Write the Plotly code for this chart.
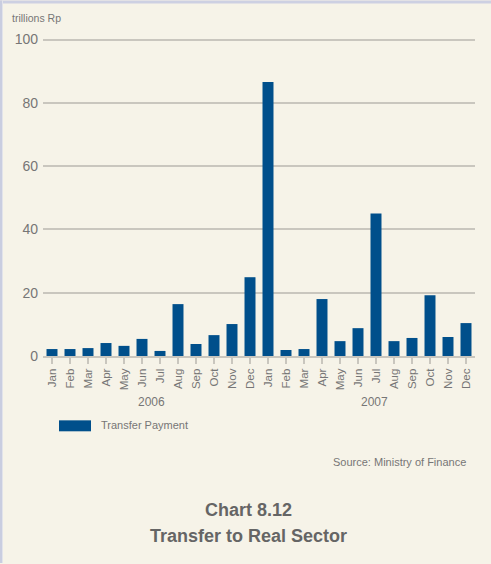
import plotly.graph_objects as go

# Monthly transfer payments to the real sector, trillions of rupiah
months = ["Jan", "Feb", "Mar", "Apr", "May", "Jun",
          "Jul", "Aug", "Sep", "Oct", "Nov", "Dec"]
years = ["2006", "2007"]
values_2006 = [2.2, 2.2, 2.5, 4.1, 3.2, 5.4, 1.6, 16.4, 3.8, 6.6, 10.1, 24.9]
values_2007 = [86.6, 1.9, 2.2, 18.0, 4.7, 8.8, 45.0, 4.7, 5.7, 19.2, 6.0, 10.4]
y_ticks = [0, 20, 40, 60, 80, 100]

series_name = "Transfer Payment"
unit_label = "trillions Rp"
source_note = "Source: Ministry of Finance"
title_lines = ["Chart 8.12", "Transfer to Real Sector"]

BG = "#F6F3E8"
BAR = "#004F8B"
GRID = "#C9C6BE"
TEXT = "#767676"
FONT = "Liberation Sans Narrow, Liberation Sans, Arial"

W, H = 491, 564
M_L, M_R, M_T, M_B = 43, 16, 37.7, 207.5
Y_TOP = 100.5

x_idx = list(range(len(months) * len(years)))
values = values_2006 + values_2007
labels = months * len(years)

fig = go.Figure()
fig.add_trace(go.Bar(
    x=x_idx, y=values, name=series_name,
    marker=dict(color=BAR, line=dict(width=0)),
    showlegend=False,
))

fig.update_layout(
    width=W, height=H,
    margin=dict(l=M_L, r=M_R, t=M_T, b=M_B, pad=0),
    paper_bgcolor=BG, plot_bgcolor=BG,
    bargap=0.39,
    font=dict(family=FONT, color=TEXT),
)

fig.update_xaxes(
    range=[-0.5, len(x_idx) - 0.5],
    tickmode="array", tickvals=x_idx, ticktext=labels,
    tickangle=-90, tickfont=dict(size=11.5, color=TEXT, family=FONT),
    showgrid=False, zeroline=False,
    showline=True, linecolor=GRID, linewidth=2,
    ticks="outside", ticklen=6, tickwidth=1.5, tickcolor=GRID,
    tickson="boundaries",
    fixedrange=True,
)

fig.update_yaxes(
    range=[0, Y_TOP],
    tickmode="array", tickvals=y_ticks, ticktext=[str(v) for v in y_ticks],
    tickfont=dict(size=14, color=TEXT, family=FONT),
    ticklabelstandoff=4,
    showgrid=True, gridcolor=GRID, gridwidth=1.5,
    zeroline=False, showline=False, ticks="",
    fixedrange=True,
)


def px_x(px):
    return (px - M_L) / (W - M_L - M_R)


def px_y(py):
    return (H - M_B - py) / (H - M_T - M_B)


annotations = [
    dict(text=unit_label, x=px_x(10), y=px_y(18), xanchor="left", yanchor="middle",
         font=dict(size=10.5, color=TEXT)),
    dict(text=years[0], x=5.5, xref="x", y=px_y(403), xanchor="center", yanchor="middle",
         font=dict(size=12, color=TEXT)),
    dict(text=years[1], x=17.9, xref="x", y=px_y(403), xanchor="center", yanchor="middle",
         font=dict(size=12, color=TEXT)),
    dict(text=series_name, x=px_x(99), y=px_y(426), xanchor="left", yanchor="middle",
         font=dict(size=11, color=TEXT)),
    dict(text=source_note, x=px_x(468), y=px_y(463), xanchor="right", yanchor="middle",
         font=dict(size=11, color=TEXT)),
    dict(text="<b>" + title_lines[0] + "</b>", x=px_x(248), y=px_y(511),
         xanchor="center", yanchor="middle", font=dict(size=18, color="#656565")),
    dict(text="<b>" + title_lines[1] + "</b>", x=px_x(248), y=px_y(537),
         xanchor="center", yanchor="middle", font=dict(size=18, color="#656565")),
]
for a in annotations:
    a.setdefault("xref", "paper")
    a["yref"] = "paper"
    a["showarrow"] = False
fig.update_layout(annotations=annotations)

shapes = [
    # legend swatch
    dict(type="rect", xref="paper", yref="paper",
         x0=px_x(59), x1=px_x(91), y0=px_y(432), y1=px_y(421),
         fillcolor=BAR, line=dict(width=0)),
    # frame edges
    dict(type="rect", xref="paper", yref="paper",
         x0=px_x(0), x1=px_x(W), y0=px_y(0), y1=px_y(3),
         fillcolor="#CDD0E2", line=dict(width=0)),
    dict(type="rect", xref="paper", yref="paper",
         x0=px_x(0), x1=px_x(2), y0=px_y(0), y1=px_y(H),
         fillcolor="#C9CDE0", line=dict(width=0)),
    dict(type="rect", xref="paper", yref="paper",
         x0=px_x(2), x1=px_x(3), y0=px_y(0), y1=px_y(H),
         fillcolor="#E2E3EA", line=dict(width=0)),
]
fig.update_layout(shapes=shapes)

fig.write_html("out.html", config={"displayModeBar": False})
